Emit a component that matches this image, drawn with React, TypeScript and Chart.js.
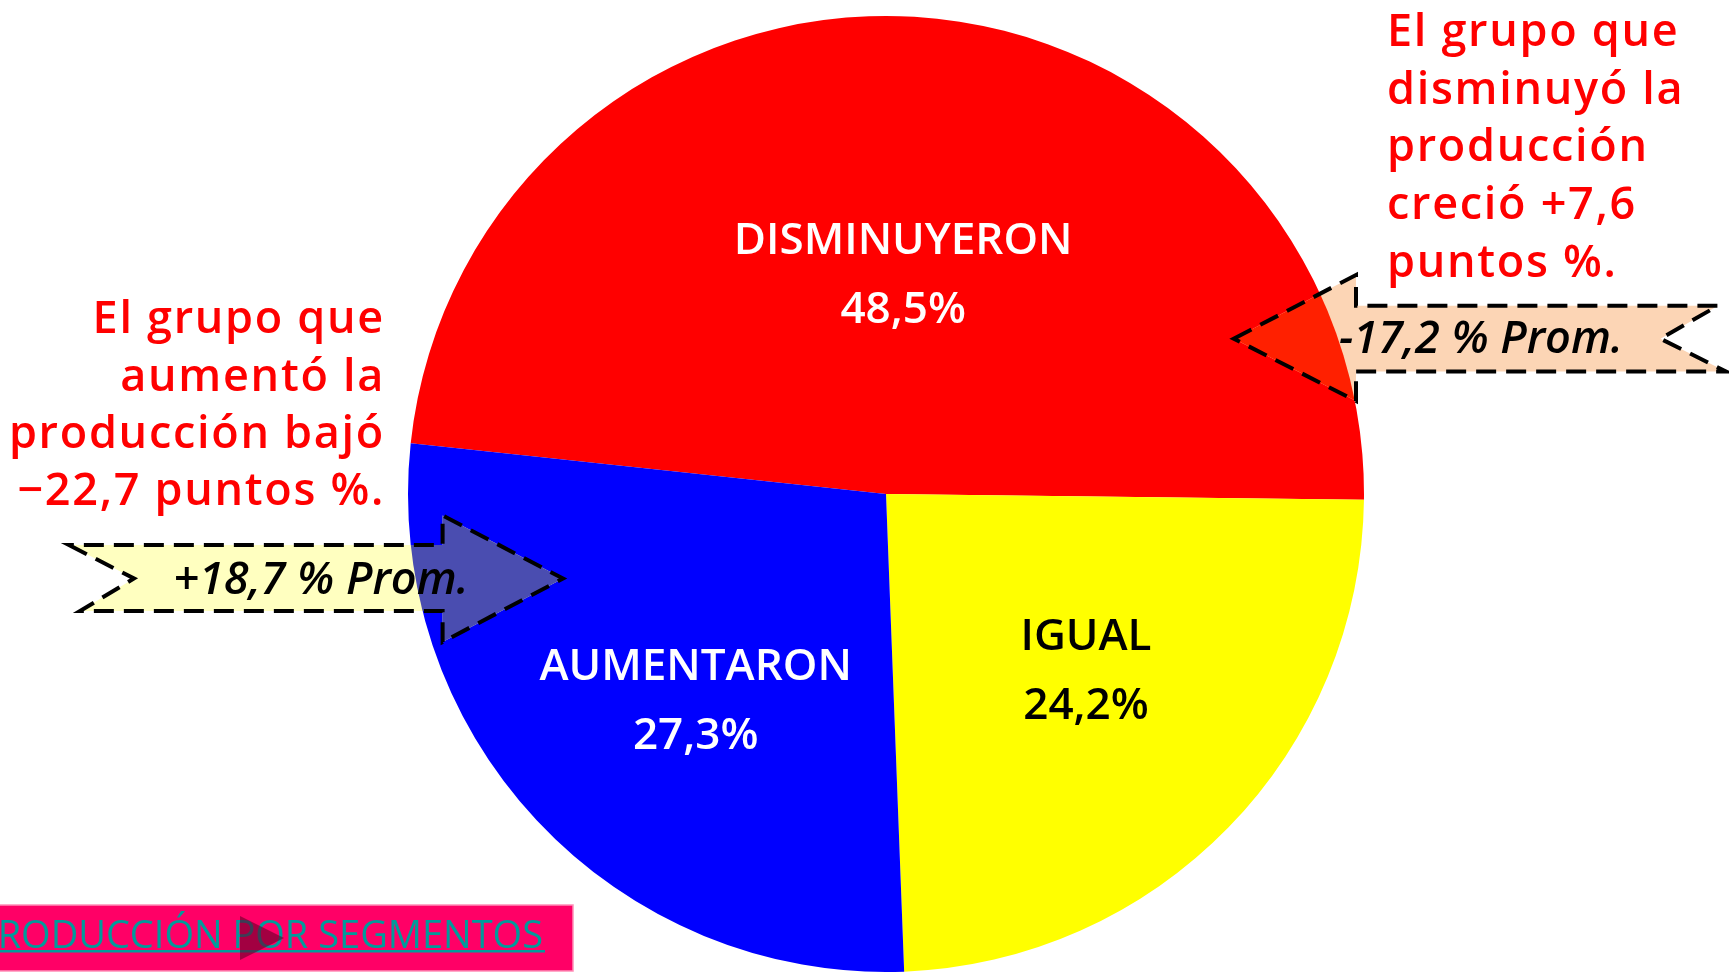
import React, { useEffect, useRef } from "react";
import { Chart, registerables } from "chart.js";

Chart.register(...registerables);

// ---------- data ----------
const categories = ["DISMINUYERON", "IGUAL", "AUMENTARON"];
const shares = [48.5, 24.2, 27.3];
const shareLabels = ["48,5%", "24,2%", "27,3%"];
const sliceColors = ["#FF0000", "#FFFF00", "#0000FF"];
const labelColors = ["#FFFFFF", "#000000", "#FFFFFF"];

const rightNote = ["El grupo que", "disminuyó la", "producción", "creció +7,6", "puntos %."];
const leftNote = ["El grupo que", "aumentó la", "producción bajó", "−22,7 puntos %."];
const rightCallout = "-17,2 % Prom.";
const leftCallout = "+18,7 % Prom.";
const bannerText = "PRODUCCIÓN POR SEGMENTOS";

// ---------- style ----------
const W = 1729;
const H = 973;
const FONT = "'Open Sans', 'Noto Sans', sans-serif";
const labelRadius = [0.465, 0.555, 0.582];
const labelNudge: [number, number][] = [
  [4, 0],
  [10, -11],
  [13, 14],
];

type P = [number, number];
const leftArrow: P[] = [
  [69, 545],
  [134, 578.5],
  [80, 611],
  [442.6, 611],
  [442.6, 642],
  [563, 578.5],
  [442.6, 515.5],
  [442.6, 545],
];
const rightArrow: P[] = [
  [1233.7, 338.7],
  [1356, 275],
  [1356, 305.7],
  [1718, 305.7],
  [1660.5, 338.7],
  [1726, 371.5],
  [1356, 371.5],
  [1356, 401],
];

function setSpacing(ctx: CanvasRenderingContext2D, px: number) {
  const c: any = ctx;
  if ("letterSpacing" in c) c.letterSpacing = `${px}px`;
}

function drawCallout(
  ctx: CanvasRenderingContext2D,
  pts: P[],
  fill: string,
  overlay: string,
  cx: number,
  cy: number,
  R: number,
  text: string,
  tx: number,
  ty: number
) {
  const path = () => {
    ctx.beginPath();
    pts.forEach(([x, y], i) => (i ? ctx.lineTo(x, y) : ctx.moveTo(x, y)));
    ctx.closePath();
  };
  ctx.save();
  path();
  ctx.fillStyle = fill;
  ctx.fill();
  ctx.save();
  path();
  ctx.clip();
  ctx.beginPath();
  ctx.arc(cx, cy, R, 0, Math.PI * 2);
  ctx.fillStyle = overlay;
  ctx.fill();
  ctx.restore();
  path();
  ctx.setLineDash([20, 10]);
  ctx.lineWidth = 4;
  ctx.strokeStyle = "#000000";
  ctx.lineJoin = "miter";
  ctx.stroke();
  ctx.setLineDash([]);
  ctx.font = `italic 600 45px ${FONT}`;
  setSpacing(ctx, 0);
  ctx.fillStyle = "#000000";
  ctx.textAlign = "center";
  ctx.textBaseline = "alphabetic";
  ctx.fillText(text, tx, ty);
  ctx.restore();
}

const overlayPlugin = {
  id: "overlayPlugin",
  afterDatasetsDraw(chart: any) {
    const ctx: CanvasRenderingContext2D = chart.ctx;
    const arcs = chart.getDatasetMeta(0).data;
    const cx = arcs[0].x;
    const cy = arcs[0].y;
    const R = arcs[0].outerRadius;

    // slice labels
    ctx.save();
    ctx.textAlign = "center";
    ctx.textBaseline = "alphabetic";
    setSpacing(ctx, 0);
    arcs.forEach((arc: any, i: number) => {
      const mid = (arc.startAngle + arc.endAngle) / 2;
      const r = R * labelRadius[i];
      const x = cx + Math.cos(mid) * r + labelNudge[i][0];
      const y = cy + Math.sin(mid) * r + labelNudge[i][1];
      ctx.fillStyle = labelColors[i];
      ctx.font = `600 44px ${FONT}`;
      ctx.fillText(categories[i], x, y - 18);
      ctx.fillText(shareLabels[i], x, y + 51);
    });
    ctx.restore();

    // callouts
    drawCallout(ctx, leftArrow, "#FFFFC0", "#4A4DB0", cx, cy, R, leftCallout, 321, 593.7);
    drawCallout(ctx, rightArrow, "#FCD5B5", "#FF2000", cx, cy, R, rightCallout, 1481, 353);

    // notes
    ctx.save();
    ctx.fillStyle = "#FF0000";
    ctx.font = `600 45px ${FONT}`;
    setSpacing(ctx, 1.7);
    ctx.textBaseline = "alphabetic";
    ctx.textAlign = "left";
    rightNote.forEach((line, i) => ctx.fillText(line, 1387, 46 + i * 57.7));
    ctx.textAlign = "right";
    leftNote.forEach((line, i) => ctx.fillText(line, 385, 333.3 + i * 57.2));
    ctx.restore();

    // banner
    ctx.save();
    ctx.fillStyle = "#FF0066";
    ctx.fillRect(0, 905, 573, 66);
    ctx.strokeStyle = "#FF8FB8";
    ctx.lineWidth = 1.5;
    ctx.strokeRect(-2, 905, 575, 66);
    ctx.font = `400 38px ${FONT}`;
    setSpacing(ctx, 0);
    ctx.fillStyle = "#009B9B";
    ctx.textAlign = "right";
    ctx.textBaseline = "alphabetic";
    ctx.fillText(bannerText, 543, 948);
    const tw = ctx.measureText(bannerText).width;
    ctx.fillRect(543 - tw, 950, tw + 2, 2.5);
    ctx.beginPath();
    ctx.moveTo(240, 916);
    ctx.lineTo(240, 960);
    ctx.lineTo(284, 938);
    ctx.closePath();
    ctx.fillStyle = "rgba(100,0,40,0.6)";
    ctx.fill();
    ctx.restore();
  },
};

export default function App() {
  const ref = useRef<HTMLCanvasElement | null>(null);

  useEffect(() => {
    let chart: Chart | null = null;
    let cancelled = false;
    const make = () => {
      if (cancelled || !ref.current) return;
      chart = new Chart(ref.current, {
        type: "pie",
        data: {
          labels: categories,
          datasets: [
            {
              data: shares,
              backgroundColor: sliceColors,
              borderWidth: 0,
            },
          ],
        },
        options: {
          responsive: false,
          animation: false,
          devicePixelRatio: 1,
          rotation: 276.1,
          layout: { padding: { left: 408, right: 365, top: 16, bottom: 1 } },
          plugins: {
            legend: { display: false },
            tooltip: { enabled: false },
          },
        },
        plugins: [overlayPlugin],
      });
    };
    const fonts = [
      `600 44px "Open Sans"`,
      `600 45px "Open Sans"`,
      `italic 600 45px "Open Sans"`,
      `400 38px "Open Sans"`,
    ];
    Promise.all(fonts.map((f) => (document as any).fonts.load(f)))
      .catch(() => null)
      .then(make);
    return () => {
      cancelled = true;
      if (chart) chart.destroy();
    };
  }, []);

  return (
    <div style={{ position: "absolute", left: 0, top: 0, width: W, height: H, background: "#FFFFFF" }}>
      <canvas ref={ref} width={W} height={H} style={{ display: "block", width: W, height: H }} />
    </div>
  );
}
